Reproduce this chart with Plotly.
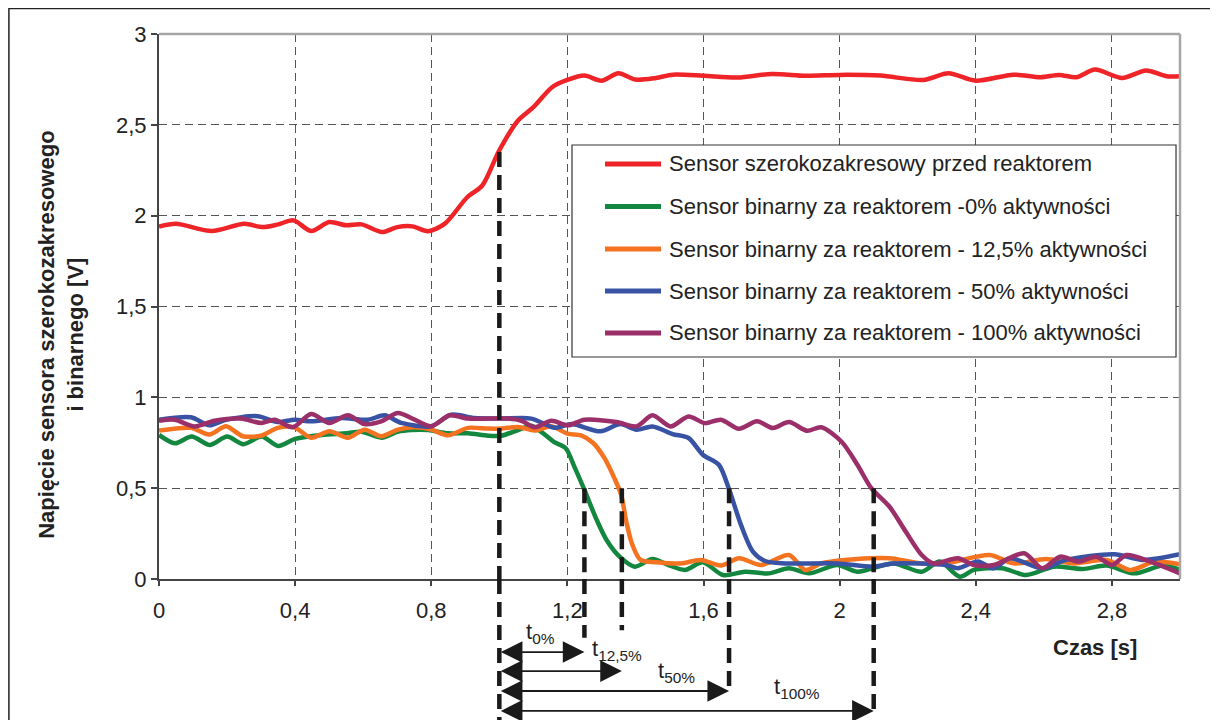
import plotly.graph_objects as go

# ---------------- data ----------------
x_red = [0.0, 0.05, 0.155, 0.25, 0.305, 0.35, 0.395, 0.448, 0.50, 0.55, 0.595, 0.655, 0.70, 0.745,
         0.79, 0.84, 0.905, 0.95, 1.0, 1.055, 1.10, 1.155, 1.20, 1.25, 1.30, 1.35, 1.40, 1.46, 1.51,
         1.6, 1.7, 1.8, 1.9, 2.0, 2.12, 2.245, 2.32, 2.40, 2.51, 2.59, 2.645, 2.695, 2.75, 2.83,
         2.90, 2.96, 3.0]
y_red = [1.94, 1.955, 1.915, 1.955, 1.937, 1.952, 1.974, 1.915, 1.965, 1.947, 1.952, 1.91, 1.937,
         1.941, 1.914, 1.956, 2.10, 2.166, 2.36, 2.524, 2.597, 2.707, 2.747, 2.771, 2.743, 2.784,
         2.749, 2.758, 2.776, 2.77, 2.76, 2.78, 2.77, 2.775, 2.771, 2.747, 2.784, 2.743, 2.776,
         2.762, 2.775, 2.762, 2.804, 2.758, 2.799, 2.768, 2.768]

x_green = [0.0, 0.047, 0.096, 0.15, 0.2, 0.248, 0.302, 0.35, 0.40, 0.478, 0.551, 0.595, 0.654,
           0.703, 0.742, 0.791, 0.849, 0.908, 0.967, 1.006, 1.055, 1.094, 1.13, 1.16, 1.195, 1.22,
           1.25, 1.285, 1.315, 1.355, 1.398, 1.45, 1.497, 1.545, 1.598, 1.657, 1.722, 1.792,
           1.851, 1.91, 1.993, 2.052, 2.158, 2.241, 2.294, 2.353, 2.394, 2.477, 2.548, 2.63,
           2.713, 2.784, 2.866, 2.949, 3.0]
y_green = [0.793, 0.747, 0.784, 0.738, 0.784, 0.742, 0.784, 0.732, 0.771, 0.793, 0.802, 0.811,
           0.778, 0.811, 0.82, 0.82, 0.802, 0.802, 0.789, 0.789, 0.82, 0.844, 0.80, 0.755, 0.72,
           0.62, 0.49, 0.33, 0.215, 0.12, 0.068, 0.11, 0.077, 0.05, 0.092, 0.022, 0.04, 0.031,
           0.059, 0.031, 0.077, 0.04, 0.086, 0.04, 0.096, 0.013, 0.05, 0.059, 0.022, 0.068,
           0.055, 0.074, 0.031, 0.074, 0.05]

x_orange = [0.0, 0.094, 0.148, 0.197, 0.246, 0.30, 0.349, 0.398, 0.447, 0.501, 0.555, 0.604,
            0.653, 0.702, 0.751, 0.80, 0.849, 0.908, 0.967, 1.006, 1.055, 1.104, 1.153, 1.20,
            1.24, 1.275, 1.309, 1.338, 1.358, 1.373, 1.391, 1.415, 1.462, 1.533, 1.592, 1.651,
            1.704, 1.769, 1.851, 1.899, 1.946, 2.052, 2.146, 2.241, 2.311, 2.441, 2.512, 2.607,
            2.689, 2.784, 2.855, 2.926, 3.0]
y_orange = [0.817, 0.832, 0.795, 0.841, 0.786, 0.789, 0.832, 0.835, 0.777, 0.813, 0.777, 0.822,
            0.786, 0.822, 0.835, 0.822, 0.791, 0.832, 0.828, 0.828, 0.837, 0.817, 0.841, 0.80,
            0.79, 0.75, 0.665, 0.555, 0.463, 0.316, 0.188, 0.105, 0.092, 0.086, 0.105, 0.074,
            0.114, 0.077, 0.132, 0.05, 0.086, 0.11, 0.114, 0.086, 0.086, 0.132, 0.086, 0.11,
            0.086, 0.105, 0.05, 0.096, 0.081]

x_blue = [0.0, 0.094, 0.148, 0.197, 0.29, 0.349, 0.398, 0.447, 0.535, 0.614, 0.663, 0.712, 0.80,
          0.859, 0.927, 1.006, 1.094, 1.163, 1.212, 1.297, 1.356, 1.403, 1.45, 1.509, 1.556,
          1.598, 1.645, 1.674, 1.71, 1.745, 1.781, 1.84, 1.993, 2.099, 2.158, 2.311, 2.347,
          2.406, 2.453, 2.50, 2.595, 2.666, 2.807, 2.89, 3.0]
y_blue = [0.877, 0.890, 0.846, 0.877, 0.896, 0.864, 0.877, 0.868, 0.886, 0.877, 0.901, 0.859,
          0.841, 0.905, 0.886, 0.883, 0.883, 0.832, 0.853, 0.813, 0.853, 0.822, 0.840, 0.798,
          0.776, 0.684, 0.629, 0.5, 0.298, 0.151, 0.099, 0.086, 0.086, 0.068, 0.086, 0.077,
          0.059, 0.096, 0.059, 0.114, 0.059, 0.105, 0.136, 0.105, 0.136]

x_purple = [0.0, 0.046, 0.104, 0.163, 0.241, 0.30, 0.339, 0.393, 0.447, 0.501, 0.555, 0.604,
            0.653, 0.702, 0.751, 0.80, 0.854, 0.908, 0.967, 1.025, 1.065, 1.104, 1.153, 1.202,
            1.25, 1.344, 1.403, 1.45, 1.503, 1.556, 1.604, 1.651, 1.704, 1.757, 1.804, 1.851,
            1.904, 1.946, 2.005, 2.052, 2.093, 2.146, 2.194, 2.241, 2.276, 2.347, 2.394, 2.453,
            2.542, 2.595, 2.648, 2.701, 2.754, 2.801, 2.842, 2.913, 3.0]
y_purple = [0.871, 0.877, 0.840, 0.871, 0.883, 0.859, 0.877, 0.835, 0.908, 0.859, 0.901, 0.853,
            0.868, 0.914, 0.877, 0.841, 0.901, 0.883, 0.883, 0.883, 0.871, 0.835, 0.871, 0.846,
            0.877, 0.864, 0.840, 0.901, 0.840, 0.895, 0.858, 0.877, 0.827, 0.868, 0.831, 0.864,
            0.816, 0.835, 0.757, 0.629, 0.5, 0.399, 0.261, 0.132, 0.086, 0.114, 0.077, 0.077,
            0.142, 0.059, 0.123, 0.096, 0.123, 0.077, 0.132, 0.096, 0.031]

series_names = [
    "Sensor szerokozakresowy przed reaktorem",
    "Sensor binarny za reaktorem -0% aktywności",
    "Sensor binarny za reaktorem - 12,5% aktywności",
    "Sensor binarny za reaktorem - 50% aktywności",
    "Sensor binarny za reaktorem - 100% aktywności",
]

# response-time markers: moment of the step (red crossing) and 0.5 V crossings
t_start = 1.0
t_start_level = 2.35
t_cross = [1.25, 1.36, 1.675, 2.1]
t_cross_level = [0.5, 0.5, 0.5, 0.5]
t_labels = ["t<sub>0%</sub>", "t<sub>12,5%</sub>", "t<sub>50%</sub>", "t<sub>100%</sub>"]

x_title = "Czas [s]"
y_title = "Napięcie sensora szerokozakresowego<br>i binarnego [V]"

# ---------------- figure ----------------
colors = ["#EE2428", "#13873F", "#F47321", "#3953A4", "#9A2F6A"]
xs = [x_red, x_green, x_orange, x_blue, x_purple]
ys = [y_red, y_green, y_orange, y_blue, y_purple]

FONT = "Arial, Liberation Sans, sans-serif"
TXT = "#222222"
fig = go.Figure()
for i in range(5):
    fig.add_trace(go.Scatter(
        x=xs[i], y=ys[i], mode="lines", name=series_names[i],
        line=dict(color=colors[i], width=4.5, shape="spline", smoothing=0.8),
        showlegend=False,
    ))

axis_common = dict(
    showgrid=True, gridcolor="#555555", gridwidth=1, griddash="8px,5px",
    showline=True, linecolor="#444444", linewidth=2,
    ticks="outside", tickcolor="#444444", tickwidth=1.5,
    tickfont=dict(family=FONT, size=22, color=TXT),
    zeroline=False,
)
fig.update_xaxes(range=[0, 3], tick0=0, dtick=0.4, ticklen=5, ticklabelstandoff=6, **axis_common)
fig.update_yaxes(range=[0, 3], tick0=0, dtick=0.5, ticklen=6, ticklabelstandoff=0, **axis_common)

shapes = []
# top and right border of the plot area (light grey)
shapes.append(dict(type="line", xref="paper", yref="paper", x0=0, x1=1, y0=1, y1=1,
                   line=dict(color="#A6A6A6", width=2.5)))
shapes.append(dict(type="line", xref="paper", yref="paper", x0=1, x1=1, y0=0, y1=1,
                   line=dict(color="#A6A6A6", width=2.5)))
# outer frame of the figure
shapes.append(dict(type="rect", xref="paper", yref="paper", x0=-0.147, x1=1.2, y0=-0.5,
                   y1=1.0468, line=dict(color="#222222", width=1.5), layer="below"))

dash_line = dict(color="#1A1A1A", width=4.5, dash="15px,8px")
v_x = [t_start] + t_cross
v_top = [t_start_level] + t_cross_level
v_bottom = [-0.259, -0.108, -0.094, -0.198, -0.240]
for xv, top, bot in zip(v_x, v_top, v_bottom):
    shapes.append(dict(type="line", xref="x", yref="y", x0=xv, x1=xv, y0=top, y1=0,
                       line=dash_line))
    shapes.append(dict(type="line", xref="x", yref="paper", x0=xv, x1=xv, y0=0, y1=bot,
                       line=dash_line))

# legend box (drawn by hand to match the original placement)
annotations = []
shapes.append(dict(type="rect", xref="paper", yref="paper", x0=0.4045, x1=0.9961,
                   y0=0.4073, y1=0.7963, line=dict(color="#333333", width=1.2),
                   fillcolor="white", layer="above"))
legend_rows = [0.7615, 0.6835, 0.6055, 0.5284, 0.4514]
for name, col, ry in zip(series_names, colors, legend_rows):
    shapes.append(dict(type="line", xref="paper", yref="paper", x0=0.4368, x1=0.4917,
                       y0=ry, y1=ry, line=dict(color=col, width=5), layer="above"))
    annotations.append(dict(
        x=0.4976, y=ry, xref="paper", yref="paper", text=name, showarrow=False,
        xanchor="left", yanchor="middle", font=dict(family=FONT, size=22, color=TXT),
    ))
fig.update_layout(shapes=shapes)

arrow_rows = [-0.134, -0.169, -0.2055, -0.242]
label_pos = [(1.12, -0.099), (1.345, -0.130), (1.52, -0.171), (1.875, -0.200)]
for xe, yr, lab, (lx, ly) in zip(t_cross, arrow_rows, t_labels, label_pos):
    annotations.append(dict(
        x=xe, y=yr, xref="x", yref="paper", ax=t_start, ay=0, axref="x", ayref="pixel",
        text="", showarrow=True, arrowhead=2, arrowside="end+start", arrowsize=2.4,
        arrowwidth=1.8, arrowcolor="#1A1A1A", standoff=0, startstandoff=0,
    ))
    annotations.append(dict(
        x=lx, y=ly, xref="x", yref="paper", text=lab, showarrow=False,
        font=dict(family=FONT, size=22, color=TXT), xanchor="center", yanchor="middle",
    ))

annotations.append(dict(
    x=0.9168, y=-0.1266, xref="paper", yref="paper", text=f"<b>{x_title}</b>", showarrow=False,
    font=dict(family=FONT, size=22, color=TXT), xanchor="center", yanchor="middle",
))
annotations.append(dict(
    x=-0.096, y=0.448, xref="paper", yref="paper",
    text="<b>" + y_title.replace("<br>", "</b><br><b>") + "</b>", showarrow=False,
    textangle=-90, font=dict(family=FONT, size=22, color=TXT),
    xanchor="center", yanchor="middle",
))
fig.update_layout(annotations=annotations)

# the page has an 8px body margin, so the figure is 8px smaller than the window
fig.update_layout(
    width=1210, height=712,
    margin=dict(l=151, r=38, t=26, b=141, pad=0),
    paper_bgcolor="white", plot_bgcolor="white",
    separators=", ",
    font=dict(family=FONT, size=22, color=TXT),
    showlegend=False,
)

fig.write_html("out.html")
